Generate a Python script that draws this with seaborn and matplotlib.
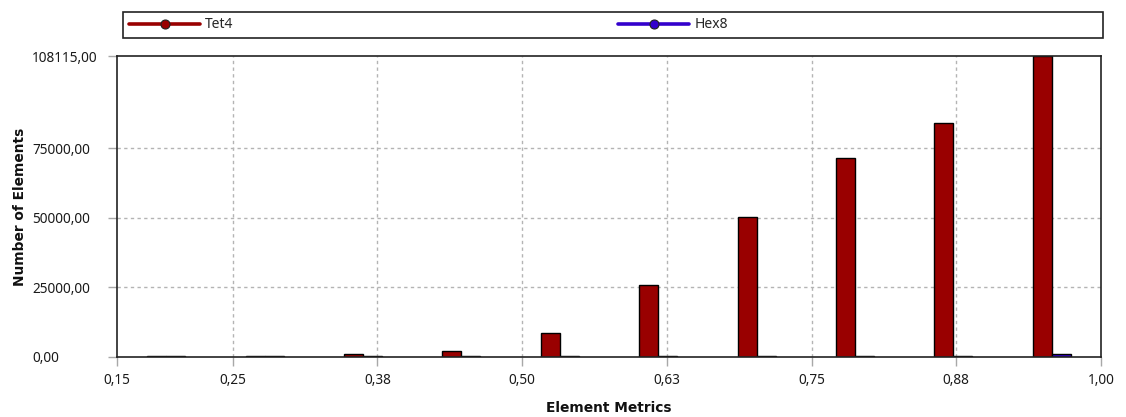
import matplotlib
matplotlib.use("Agg")
import matplotlib.pyplot as plt
from matplotlib.lines import Line2D
from matplotlib.patches import Rectangle
from matplotlib.ticker import FixedLocator
import seaborn as sns
import pandas as pd

# Element quality histogram: 10 bins between 0.15 and 1.00
bin_centers = [0.1925, 0.2775, 0.3625, 0.4475, 0.5325,
               0.6175, 0.7025, 0.7875, 0.8725, 0.9575]
tet4_counts = [300, 300, 1000, 2000, 8760, 25700, 50350, 71650, 84100, 108115]
hex8_counts = [300, 300, 300, 300, 300, 300, 300, 300, 300, 900]
series_names = ["Tet4", "Hex8"]
series_colors = ["#990000", "#3300cc"]

x_ticks = [0.15, 0.25, 0.375, 0.50, 0.625, 0.75, 0.875, 1.00]
x_tick_labels = ["0,15", "0,25", "0,38", "0,50", "0,63", "0,75", "0,88", "1,00"]
y_ticks = [0, 25000, 50000, 75000, 108115]
y_tick_labels = ["0,00", "25000,00", "50000,00", "75000,00", "108115,00"]

df = pd.DataFrame({
    "metric": bin_centers * 2,
    "count": tet4_counts + hex8_counts,
    "type": [series_names[0]] * len(tet4_counts) + [series_names[1]] * len(hex8_counts),
})

sns.set_theme(style="white")
plt.rcParams["font.family"] = ["Noto Sans", "DejaVu Sans"]

W, H = 1126, 417
fig = plt.figure(figsize=(W / 100, H / 100), dpi=100)
ax = fig.add_axes([117 / W, 1 - 357 / H, (1101 - 117) / W, (357 - 56) / H])

sns.barplot(data=df, x="metric", y="count", hue="type", hue_order=series_names,
            palette=series_colors, native_scale=True, dodge=True, width=0.387,
            edgecolor="black", linewidth=1.0, legend=False, ax=ax, saturation=1)

ax.set_xlim(0.15, 1.00)
ax.set_ylim(0, 108115)

ax.xaxis.set_major_locator(FixedLocator(x_ticks))
ax.set_xticklabels(x_tick_labels)
ax.yaxis.set_major_locator(FixedLocator(y_ticks))
ax.set_yticklabels(y_tick_labels, ha="left")

ax.tick_params(axis="both", which="major", direction="out", length=6.5, width=1,
               color="#a8a8a8", labelsize=9.8, labelcolor="#1a1a1a",
               bottom=True, left=True)
ax.tick_params(axis="x", pad=5)
ax.tick_params(axis="y", pad=54.7)

# dashed interior grid lines, kept behind the bars
ax.set_axisbelow(True)
for xv in x_ticks[1:-1]:
    ax.axvline(xv, color="#b4b4b4", lw=1, ls=(0, (2.4, 2.4)), zorder=0)
for yv in y_ticks[1:-1]:
    ax.axhline(yv, color="#b4b4b4", lw=1, ls=(0, (2.4, 2.4)), zorder=0)

for side in ["left", "right", "top", "bottom"]:
    ax.spines[side].set_visible(True)
    ax.spines[side].set_color("#222222")
    ax.spines[side].set_linewidth(1.2)

label_font = dict(family="DejaVu Sans", size=9.9, weight="bold", color="#111111")
ax.set_xlabel("Element Metrics", **label_font)
ax.set_ylabel("Number of Elements", **label_font)
ax.xaxis.set_label_coords(0.5, (357 - 401) / 301)
ax.yaxis.set_label_coords((27.5 - 117) / 984, 0.5)

# legend strip above the plot
fig.patches.append(Rectangle((123 / W, 1 - 37.5 / H), (1103 - 123) / W, 25.5 / H,
                             transform=fig.transFigure, fill=False,
                             edgecolor="#222222", lw=1.2))
handles = [Line2D([0], [0], color=c, lw=2.6, marker="o", markersize=6.5,
                  markerfacecolor=c, markeredgecolor="#222222", markeredgewidth=0.8)
           for c in series_colors]
fs_leg = 10
em = fs_leg * 100 / 72
leg = fig.legend(handles, series_names, loc="center left",
                 bbox_to_anchor=(129 / W, 1 - 25 / H), ncol=2, frameon=False,
                 borderaxespad=0, borderpad=0, fontsize=fs_leg,
                 handlelength=71 / em, handletextpad=5 / em,
                 columnspacing=(618 - 129 - 71 - 5 - 28) / em)

fig.savefig("out.png", dpi=100, facecolor="white")
